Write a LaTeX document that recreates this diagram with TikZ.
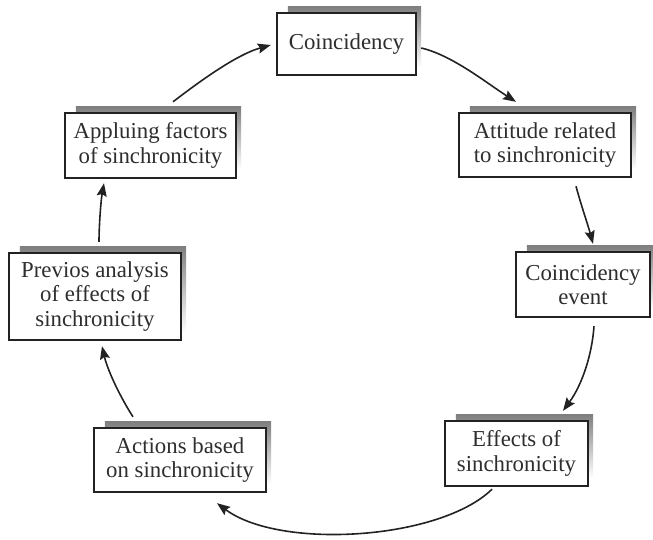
\documentclass[tikz,border=0pt]{standalone}
\usepackage{fontspec}
\setmainfont{Liberation Serif}
\usetikzlibrary{arrows.meta,calc,backgrounds}
\definecolor{ink}{HTML}{222222}
\definecolor{txt}{HTML}{2E2E2E}
\definecolor{shade}{HTML}{A4A4A4}
\begin{document}
\begin{tikzpicture}[x=1pt,y=-1pt,
  box/.style={draw=ink, line width=2.4pt, fill=white, align=center, inner sep=0pt,
    font=\fontsize{22.8}{24.5}\selectfont, text=txt},
  arr/.style={draw=ink, line width=1.6pt, -{Stealth[length=13pt,width=10pt,inset=2pt]}}]
\useasboundingbox (0,0) rectangle (653,539);

% stages of the cycle
\node[box, minimum width=139pt, minimum height=62pt] (coin)  at (346.5,44)   {Coincidency};
\node[box, minimum width=172pt, minimum height=64pt] (att)   at (545,145)    {Attitude related\\to sinchronicity};
\node[box, minimum width=134pt, minimum height=65pt] (event) at (583,284.5)  {Coincidency\\event};
\node[box, minimum width=143pt, minimum height=65pt] (eff)   at (516.5,453.5){Effects of\\sinchronicity};
\node[box, minimum width=172pt, minimum height=87pt] (prev)  at (95,296.5)   {Previos analysis\\of effects of\\sinchronicity};
\node[box, minimum width=171pt, minimum height=65pt] (appl)  at (150.5,145.5){Appluing factors\\of sinchronicity};
\node[box, minimum width=172pt, minimum height=64pt] (act)   at (180,460)    {Actions based\\on sinchronicity};

% grey shadows behind the boxes
\begin{scope}[on background layer]
\foreach \n in {coin,att,event,eff,prev,appl,act}
  \fill[shade] ([shift={(12,-5)}]\n.north west) rectangle ([shift={(4,-9)}]\n.south east);
\end{scope}

% arrows around the cycle
\draw[arr] ($(coin.east)+(4,4)$) .. controls (452,55) and (488,84) .. ($(att.north)+(-29,-10)$);
\draw[arr] ($(att.south)+(31,8)$) .. controls (581,205) and (588,225) .. ($(event.north)+(10,-7)$);
\draw[arr] ($(event.south)+(11,8)$) .. controls (592,355) and (582,385) .. ($(eff.north)+(46.5,-9)$);
\draw[arr] ($(eff.south)+(-24.5,2)$) .. controls (440,540) and (280,550) .. ($(act.south)+(37,10)$);
\draw[arr] ($(act.north)+(-47,-10)$) .. controls (122,400) and (108,372) .. ($(prev.south)+(7,5)$);
\draw[arr] ($(prev.north)+(4,-10)$) .. controls (99,225) and (101,200) .. ($(appl.south)+(-46.5,4)$);
\draw[arr] ($(appl.north)+(22.5,-10)$) .. controls (195,85) and (235,55) .. ($(coin.west)+(-5,1)$);
\end{tikzpicture}
\end{document}
